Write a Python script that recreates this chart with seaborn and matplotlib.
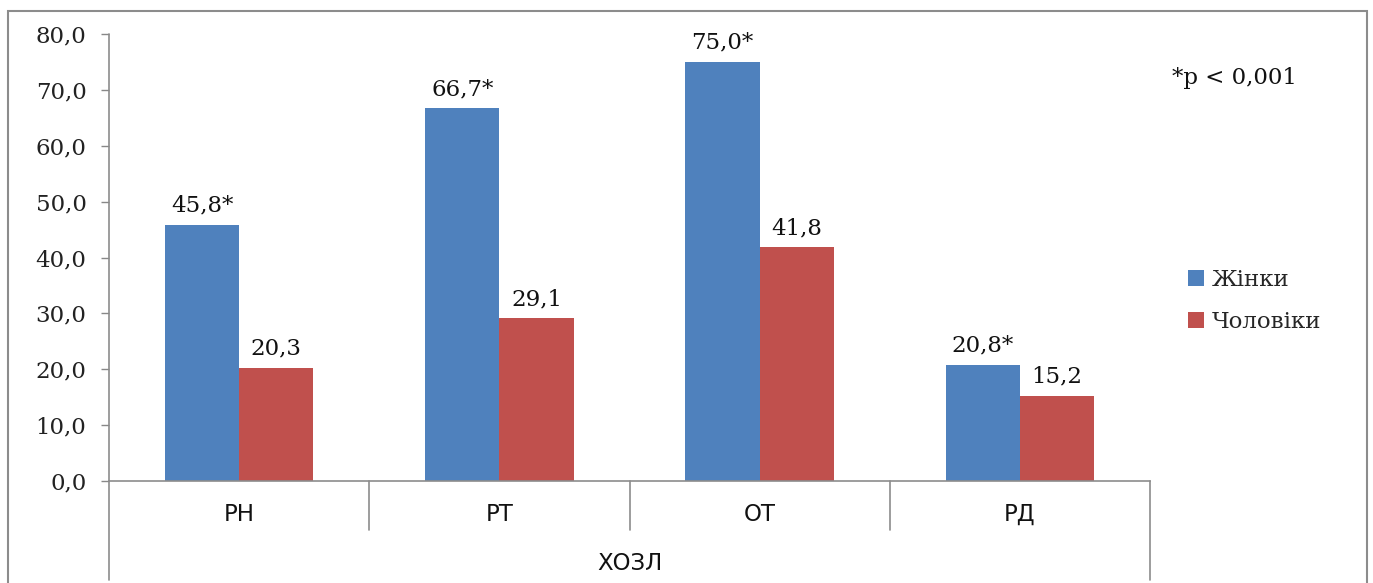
import matplotlib
matplotlib.use("Agg")
import matplotlib.pyplot as plt
from matplotlib.lines import Line2D
from matplotlib.patches import Rectangle
import seaborn as sns
import pandas as pd

categories = ["РН", "РТ", "ОТ", "РД"]
women = [45.8, 66.7, 75.0, 20.8]
men = [20.3, 29.1, 41.8, 15.2]
women_marks = ["*", "*", "*", "*"]
men_marks = ["", "", "", ""]
series_names = ["Жінки", "Чоловіки"]
group_label = "ХОЗЛ"
note_text = "*p < 0,001"
y_ticks = [0, 10, 20, 30, 40, 50, 60, 70, 80]

colors = ["#4F81BD", "#C0504D"]

df = pd.DataFrame({
    "cat": categories * 2,
    "val": women + men,
    "sex": [series_names[0]] * len(categories) + [series_names[1]] * len(categories),
})

sns.set_theme(style="white")
serif = "DejaVu Serif"
sans = "DejaVu Sans"
plt.rcParams["font.family"] = [serif, "DejaVu Sans"]

W, H = 1373, 583
AX_L, AX_R, AX_T, AX_B = 109, 1150, 34, 481
fig = plt.figure(figsize=(W / 100, H / 100), dpi=100)
ax = fig.add_axes([AX_L / W, 1 - AX_B / H, (AX_R - AX_L) / W, (AX_B - AX_T) / H])

sns.barplot(data=df, x="cat", y="val", hue="sex", palette=colors,
            width=0.57, gap=0, saturation=1, ax=ax, legend=False,
            errorbar=None, edgecolor="none")

ax.set_xlim(-0.5, len(categories) - 0.5)
ax.set_ylim(0, 80)
ax.set_yticks(y_ticks)
ax.set_yticklabels([f"{v:.1f}".replace(".", ",") for v in y_ticks],
                   fontsize=16.5, family=serif, color="#222222")
ax.tick_params(axis="y", left=True, length=8 * 0.72, width=1, color="#888888",
               pad=10.5)
ax.tick_params(axis="x", bottom=False, pad=10)
ax.set_xticks(range(len(categories)))
ax.set_xticklabels(categories, fontsize=16.5, family=sans, color="#111111")
ax.set_xlabel("")
ax.set_ylabel("")

for side in ["top", "right"]:
    ax.spines[side].set_visible(False)
ax.spines["left"].set_visible(False)
ax.spines["bottom"].set_color("#8c8c8c")
ax.spines["bottom"].set_linewidth(1.2)

# value labels on bars
for container, vals, marks in zip(ax.containers, [women, men], [women_marks, men_marks]):
    labels = [f"{v:.1f}".replace(".", ",") + m for v, m in zip(vals, marks)]
    ax.bar_label(container, labels=labels, padding=6, fontsize=16.5,
                 family=serif, color="#111111")

# multi-level category axis dividers
trans = ax.get_xaxis_transform()
span = AX_B - AX_T
for xb in [0.5, 1.5, 2.5]:
    ax.add_line(Line2D([xb, xb], [0, -49 / span], transform=trans,
                       color="#8c8c8c", lw=1.2, clip_on=False))
ax.add_line(Line2D([3.5, 3.5], [0, -(580 - AX_B) / span], transform=trans,
                   color="#8c8c8c", lw=1.2, clip_on=False))
# left axis line extended below the plot
fig.add_artist(Line2D([AX_L / W, AX_L / W], [1 - AX_T / H, 1 - 580 / H],
                      transform=fig.transFigure, color="#8c8c8c", lw=1.2))
fig.text((AX_L + AX_R) / 2 / W, 1 - 563 / H, group_label, ha="center",
         va="center", fontsize=16.5, family=sans, color="#111111")

# chart frame
fig.add_artist(Rectangle((8 / W, -0.05), (1367 - 8) / W, 1 - 11 / H + 0.05,
                         transform=fig.transFigure, fill=False,
                         edgecolor="#8c8c8c", lw=1.5))

# significance note
fig.text(1172 / W, 1 - 78 / H, note_text, ha="left", va="center",
         fontsize=16.5, family=serif, color="#111111")

# legend
handles = [Rectangle((0, 0), 1, 1, facecolor=c, edgecolor="none") for c in colors]
fig.legend(handles, series_names, loc="center left",
           bbox_to_anchor=(1188 / W, 1 - 301 / H), frameon=False,
           prop={"family": serif, "size": 16.5}, handlelength=0.7,
           handleheight=0.7, handletextpad=0.35, labelspacing=0.85,
           borderpad=0, borderaxespad=0)

fig.savefig("out.png", dpi=100, facecolor="white")
